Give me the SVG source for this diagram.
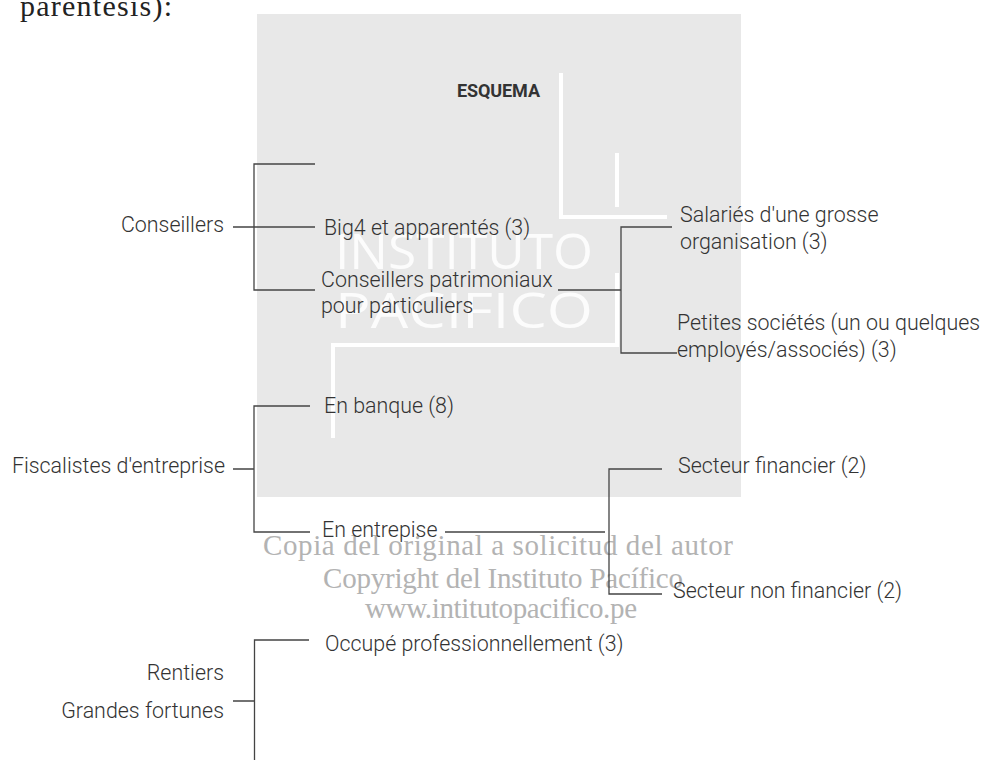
<svg xmlns="http://www.w3.org/2000/svg" width="982" height="760" viewBox="0 0 982 760">
<style>
.lbl{font-family:Roboto,"Liberation Sans",sans-serif;font-weight:300;font-size:21.4px;fill:#333}
.end{text-anchor:end}
.wm{font-family:"Liberation Serif",serif;font-size:29px;fill:#b3b3b3;text-anchor:middle}
.wl{fill:none;stroke:#fff;stroke-width:4}
.big{font-family:"Open Sans",sans-serif;font-size:50px;fill:#fff;fill-opacity:0.85}
.cn{fill:none;stroke:#444;stroke-width:1.3}
</style>
<rect width="982" height="760" fill="#fff"/>
<text x="20" y="16" font-family="'Liberation Serif',serif" font-size="30" fill="#222" textLength="152">parentesis):</text>
<g id="panel">
<rect x="257" y="14" width="484" height="483" fill="#e8e8e8"/>
<path class="wl" d="M561 73V217H667M617 153V207M617 273V345H333V438"/>
<text class="big" x="335" y="269" textLength="258" lengthAdjust="spacingAndGlyphs">INSTITUTO</text>
<text class="big" x="335" y="328" textLength="258" lengthAdjust="spacingAndGlyphs">PACIFICO</text>
<text x="457" y="97" font-family="Roboto,'Liberation Sans',sans-serif" font-weight="700" font-size="18" fill="#333" textLength="83">ESQUEMA</text>
</g>
<g id="watermark">
<text class="wm" x="498" y="555" textLength="470">Copia del original a solicitud del autor</text>
<text class="wm" x="503" y="588" textLength="360">Copyright del Instituto Pacífico</text>
<text class="wm" x="501" y="618" textLength="272">www.intitutopacifico.pe</text>
</g>
<g id="connectors">
<path class="cn" d="M233 227H315M315 164H254V290H315"/>
<path class="cn" d="M558 290H621M672 227H621V353H677"/>
<path class="cn" d="M233 469H254M310 406H254V532H310"/>
<path class="cn" d="M445 532H605M662 469H609V594H662"/>
<path class="cn" d="M233 701H254.5M309 640H254.5V760"/>
</g>
<g id="n-conseillers"><text class="lbl end" x="224" y="232">Conseillers</text></g>
<g id="n-big4"><text class="lbl" x="324" y="235">Big4 et apparentés (3)</text></g>
<g id="n-patrimoniaux"><text class="lbl" x="321" y="287">Conseillers patrimoniaux</text><text class="lbl" x="321" y="313">pour particuliers</text></g>
<g id="n-salaries"><text class="lbl" x="680" y="222">Salariés d'une grosse</text><text class="lbl" x="680" y="249">organisation (3)</text></g>
<g id="n-petites"><text class="lbl" x="677" y="330">Petites sociétés (un ou quelques</text><text class="lbl" x="677" y="357">employés/associés) (3)</text></g>
<g id="n-fiscalistes"><text class="lbl end" x="225" y="473">Fiscalistes d'entreprise</text></g>
<g id="n-banque"><text class="lbl" x="324" y="413">En banque (8)</text></g>
<g id="n-entrepise"><text class="lbl" x="322" y="537">En entrepise</text></g>
<g id="n-financier"><text class="lbl" x="678" y="473">Secteur financier (2)</text></g>
<g id="n-nonfinancier"><text class="lbl" x="673" y="598">Secteur non financier (2)</text></g>
<g id="n-rentiers"><text class="lbl end" x="224" y="680">Rentiers</text><text class="lbl end" x="224" y="718">Grandes fortunes</text></g>
<g id="n-occupe"><text class="lbl" x="325" y="651">Occupé professionnellement (3)</text></g>
</svg>
